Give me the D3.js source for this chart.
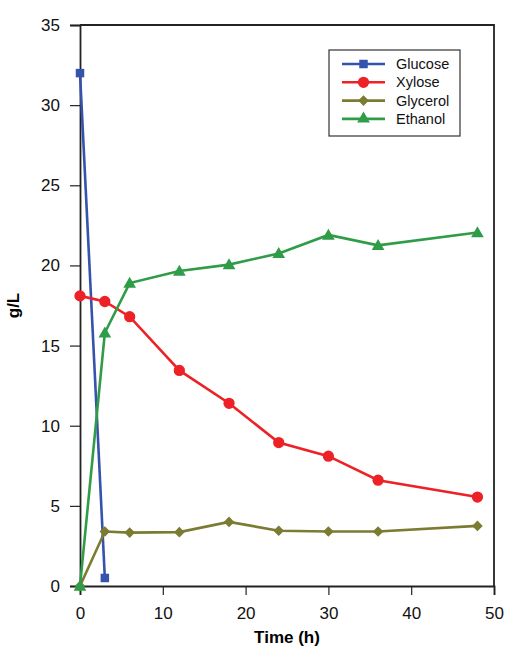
<!DOCTYPE html>
<html>
<head>
<meta charset="utf-8">
<script src="https://cdn.jsdelivr.net/npm/d3@7"></script>
<style>
  body { margin: 0; background: #fff; }
  text { font-family: "Liberation Sans", Arial, sans-serif; }
</style>
</head>
<body>
<div id="chart"></div>
<script>
(function () {

  // data
  var glucoseTime = [0, 3]
  var glucose = [32, 0.5]

  var time = [0, 3, 6, 12, 18, 24, 30, 36, 48]
  var xylose = [18.1, 17.75, 16.8, 13.45, 11.4, 8.95, 8.1, 6.6, 5.55]
  var glycerol = [0, 3.4, 3.33, 3.36, 4.0, 3.45, 3.4, 3.4, 3.75]
  var ethanol = [0, 15.8, 18.9, 19.65, 20.05, 20.75, 21.9, 21.25, 22.05]

  var seriesNames = ['Glucose', 'Xylose', 'Glycerol', 'Ethanol']
  var xTicks = [0, 10, 20, 30, 40, 50]
  var yTicks = [0, 5, 10, 15, 20, 25, 30, 35]

  var colors = {
    Glucose: '#3552ac',
    Xylose: '#ec2227',
    Glycerol: '#7b7b31',
    Ethanol: '#2f9c47'
  }
  var shapes = {
    Glucose: d3.symbolSquare,
    Xylose: d3.symbolCircle,
    Glycerol: d3.symbolSquare,   // turned 45deg below -> diamond
    Ethanol: d3.symbolTriangle
  }
  var sizes = { Glucose: 72, Xylose: 100, Glycerol: 56, Ethanol: 70 }
  var rot = { Glucose: 0, Xylose: 0, Glycerol: 45, Ethanol: 0 }

  var series = [
    { name: 'Glucose', values: glucoseTime.map(function (t, i) { return { t: t, v: glucose[i] } }) },
    { name: 'Xylose', values: time.map(function (t, i) { return { t: t, v: xylose[i] } }) },
    { name: 'Glycerol', values: time.map(function (t, i) { return { t: t, v: glycerol[i] } }) },
    { name: 'Ethanol', values: time.map(function (t, i) { return { t: t, v: ethanol[i] } }) }
  ]

  var margin = { top: 25, right: 27, bottom: 61, left: 80 }
  var width = 521 - margin.left - margin.right,
      height = 647 - margin.top - margin.bottom

  var svg = d3.select('#chart').append('svg')
    .attr('width', 521)
    .attr('height', 647)
    .append('g')
    .attr('transform', 'translate(' + margin.left + ',' + margin.top + ')')

  var x = d3.scaleLinear().domain([0, 50]).range([0, width])
  var y = d3.scaleLinear().domain([0, 35]).range([height, 0])

  // frame (top + right)
  svg.append('path')
    .attr('d', 'M0,0H' + width + 'V' + height)
    .attr('fill', 'none')
    .attr('stroke', '#222')
    .attr('stroke-width', 1.8)

  var yAxis = d3.axisLeft(y).tickValues(yTicks).tickSize(10).tickPadding(10)
  svg.append('g').attr('class', 'axis y-axis').call(yAxis)

  var xAxis = d3.axisBottom(x).tickValues(xTicks).tickSize(9).tickPadding(12)
  svg.append('g')
    .attr('class', 'axis x-axis')
    .attr('transform', 'translate(0,' + height + ')')
    .call(xAxis)

  svg.selectAll('.axis path.domain').attr('stroke', '#222').attr('stroke-width', 1.8)
  svg.selectAll('.axis .tick line').attr('stroke', '#222').attr('stroke-width', 1.2)
  svg.selectAll('.axis text')
    .style('font-size', '17px')
    .attr('fill', '#111')

  var line = d3.line()
    .x(function (d) { return x(d.t) })
    .y(function (d) { return y(d.v) })

  var groups = svg.selectAll('.series')
    .data(series)
    .enter().append('g')
    .attr('class', 'series')

  groups.append('path')
    .attr('d', function (d) { return line(d.values) })
    .attr('fill', 'none')
    .attr('stroke', function (d) { return colors[d.name] })
    .attr('stroke-width', 2.6)

  groups.each(function (s) {
    d3.select(this).selectAll('path.mark')
      .data(s.values)
      .enter().append('path')
      .attr('class', 'mark')
      .attr('d', d3.symbol().type(shapes[s.name]).size(sizes[s.name]))
      .attr('transform', function (d) {
        var dy = s.name === 'Ethanol' ? 1 : 0
        return 'translate(' + x(d.t) + ',' + (y(d.v) + dy) + ') rotate(' + rot[s.name] + ')'
      })
      .attr('fill', colors[s.name])
  })

  // axis titles
  svg.append('text')
    .attr('transform', 'translate(' + (-61) + ',' + (height / 2) + ') rotate(-90)')
    .attr('text-anchor', 'middle')
    .style('font-size', '17px')
    .style('font-weight', 'bold')
    .text('g/L')

  svg.append('text')
    .attr('x', width / 2)
    .attr('y', height + 57)
    .attr('text-anchor', 'middle')
    .style('font-size', '17px')
    .style('font-weight', 'bold')
    .text('Time (h)')

  // legend
  var legend = svg.append('g')
    .attr('transform', 'translate(' + (329 - margin.left) + ',' + (50 - margin.top) + ')')

  legend.append('rect')
    .attr('width', 131)
    .attr('height', 86)
    .attr('fill', '#fff')
    .attr('stroke', '#333')
    .attr('stroke-width', 1.2)

  var items = legend.selectAll('.item')
    .data(seriesNames)
    .enter().append('g')
    .attr('class', 'item')
    .attr('transform', function (d, i) { return 'translate(0,' + (14 + i * 18.3) + ')' })

  items.append('line')
    .attr('x1', 13).attr('x2', 56)
    .attr('stroke', function (d) { return colors[d] })
    .attr('stroke-width', 2.6)

  items.append('path')
    .attr('d', function (d) { return d3.symbol().type(shapes[d]).size(sizes[d])() })
    .attr('transform', function (d) { return 'translate(34.5,0) rotate(' + rot[d] + ')' })
    .attr('fill', function (d) { return colors[d] })

  items.append('text')
    .attr('x', 67)
    .attr('dy', '0.35em')
    .style('font-size', '14.5px')
    .attr('fill', '#111')
    .text(function (d) { return d })

})()
</script>
</body>
</html>
